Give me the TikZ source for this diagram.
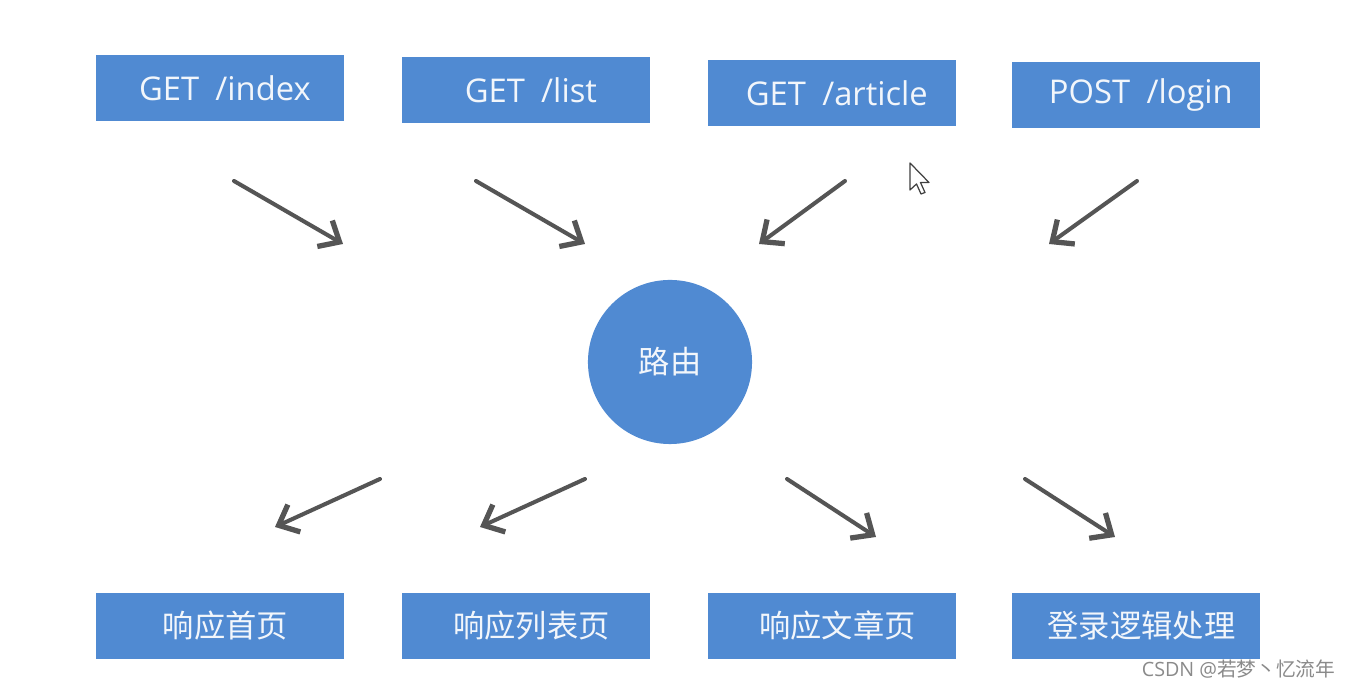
\documentclass[tikz,border=0pt]{standalone}
\usepackage{fontspec}
\setmainfont{Open Sans}
\newfontfamily\cjk{Noto Sans CJK SC}
\usetikzlibrary{arrows.meta}
\definecolor{boxblue}{HTML}{508AD2}
\definecolor{arrowgray}{HTML}{555555}
\definecolor{txtwhite}{HTML}{F2F6FB}
\definecolor{wmgray}{HTML}{8A8A8A}
\tikzset{
  reqbox/.style={fill=boxblue, draw=none, minimum width=2.48cm, minimum height=0.65cm, inner sep=0pt, text=txtwhite, font=\fontsize{9.3}{11}\selectfont},
  resbox/.style={fill=boxblue, draw=none, minimum width=2.48cm, minimum height=0.65cm, inner sep=0pt, text=txtwhite, font=\cjk\fontsize{8.9}{11}\selectfont},
  router/.style={circle, fill=boxblue, draw=none, minimum size=1.64cm, inner sep=0pt, text=txtwhite, font=\cjk\fontsize{8.9}{11}\selectfont},
  flow/.style={draw=arrowgray, line width=1.15pt, line cap=round, -{Straight Barb[length=0.17cm, width=0.3cm, line width=1.5pt]}},
}
\begin{document}
\begin{tikzpicture}[x=0.01cm, y=-0.01cm]
\useasboundingbox (0,0) rectangle (1350,689);
\fill[white] (0,0) rectangle (1350,689);
% request boxes
\node[reqbox] (r1) at (220,88) {\hspace{0.3em}GET\hspace{0.5em}/index};
\node[reqbox] (r2) at (526,90) {\hspace{0.3em}GET\hspace{0.5em}/list};
\node[reqbox] (r3) at (832,93) {\hspace{0.3em}GET\hspace{0.5em}/article};
\node[reqbox] (r4) at (1136,95) {\hspace{0.3em}POST\hspace{0.5em}/login};
% router
\node[router] (rt) at (670,362) {路由};
% response boxes
\node[resbox] (s1) at (220,626) {\hspace{0.35em}响应首页};
\node[resbox] (s2) at (526,626) {\hspace{0.35em}响应列表页};
\node[resbox] (s3) at (832,626) {\hspace{0.35em}响应文章页};
\node[resbox] (s4) at (1136,626) {\hspace{0.35em}登录逻辑处理};
% arrow end points
\coordinate (a1s) at (234,181); \coordinate (a1e) at (343,244);
\coordinate (a2s) at (476,181); \coordinate (a2e) at (585,244);
\coordinate (a3s) at (845,181); \coordinate (a3e) at (759,244);
\coordinate (a4s) at (1137,181); \coordinate (a4e) at (1049,244);
\coordinate (b1s) at (380,479); \coordinate (b1e) at (275,527);
\coordinate (b2s) at (585,479); \coordinate (b2e) at (480,527);
\coordinate (b3s) at (787,479); \coordinate (b3e) at (876,537);
\coordinate (b4s) at (1025,479); \coordinate (b4e) at (1115,537);
\draw[flow] (a1s) -- (a1e);
\draw[flow] (a2s) -- (a2e);
\draw[flow] (a3s) -- (a3e);
\draw[flow] (a4s) -- (a4e);
\draw[flow] (b1s) -- (b1e);
\draw[flow] (b2s) -- (b2e);
\draw[flow] (b3s) -- (b3e);
\draw[flow] (b4s) -- (b4e);
% mouse cursor
\draw[fill=white, draw=black!75, line width=0.35pt, line join=round]
  (910,163) -- (910,190) -- (916.5,184) -- (921,194) -- (925,192.5) -- (920.5,182.5) -- (929,182.5) -- cycle;
% watermark
\node[anchor=east, text=wmgray, inner sep=0pt, font=\fontsize{5.6}{7}\selectfont] (wm) at (1336,669) {CSDN @{\cjk 若梦丶忆流年}};
\end{tikzpicture}
\end{document}
